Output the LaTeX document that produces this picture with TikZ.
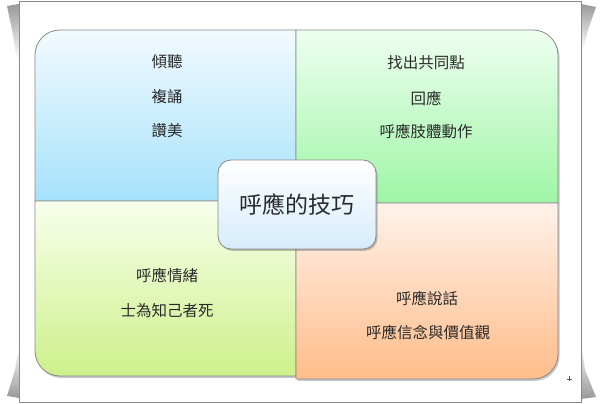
\documentclass[tikz,border=0pt]{standalone}
\usepackage{fontspec}
\newfontfamily\cjk{Noto Sans CJK TC}
\usetikzlibrary{shadows}
\definecolor{edge}{HTML}{8A8A8A}
\definecolor{txt}{HTML}{2A2A2A}
\definecolor{tlT}{HTML}{F2FAFE}\definecolor{tlB}{HTML}{A6E2FB}
\definecolor{trT}{HTML}{EEFFF0}\definecolor{trB}{HTML}{9EF5A5}
\definecolor{blT}{HTML}{F8FFEC}\definecolor{blB}{HTML}{CDF08A}
\definecolor{brT}{HTML}{FFF2EA}\definecolor{brB}{HTML}{FFBD8A}
\definecolor{cB}{HTML}{D6ECFB}
\tikzset{
  quad/.style={draw=edge, line width=0.8pt,
    drop shadow={shadow xshift=1.5pt, shadow yshift=-2pt, opacity=0.3, fill=black!70}},
  item/.style={font=\cjk\fontsize{15.5}{18}\selectfont, text=txt, inner sep=0pt},
  pageshadow/.style={draw=none},
}
\begin{document}
\begin{tikzpicture}[x=1pt,y=1pt]
\useasboundingbox (0,0) rectangle (600,404);
% page shadows
\shade[top color=black!40, bottom color=white, pageshadow] (19,400) -- (7,398) -- (12,374) -- (17,344) -- (19,344) -- cycle;
\shade[top color=white, bottom color=black!40, pageshadow] (19,59) -- (15,34) -- (7,8) -- (19,6) -- cycle;
\shade[top color=black!40, bottom color=white, pageshadow] (581,400) -- (596,397) -- (588,374) -- (583,354) -- (581,354) -- cycle;
\shade[top color=white, bottom color=black!40, pageshadow] (581,64) -- (585,34) -- (596,7) -- (581,5) -- cycle;
% frame
\draw[edge, fill=white, line width=0.8pt] (19,2) rectangle (581,403);
% quadrants
\path[quad, top color=tlT, bottom color=tlB]
  (35,203) -- (35,349) arc[start angle=180,end angle=90,radius=25] -- (296,374) -- (296,203) -- cycle;
\path[quad, top color=blT, bottom color=blB]
  (35,203) -- (35,53) arc[start angle=180,end angle=270,radius=25] -- (296,28) -- (296,203) -- cycle;
\path[quad, top color=trT, bottom color=trB]
  (296,201) -- (296,374) -- (533,374) arc[start angle=90,end angle=0,radius=25] -- (558,201) -- cycle;
\path[quad, top color=brT, bottom color=brB]
  (296,201) -- (296,25) -- (533,25) arc[start angle=270,end angle=360,radius=25] -- (558,201) -- cycle;
% center
\node[draw=edge, line width=0.8pt, rounded corners=13pt, minimum width=158pt, minimum height=89pt,
  top color=white, bottom color=cB, text=txt, font=\cjk\fontsize{23}{26}\selectfont,
  drop shadow={shadow xshift=1.5pt, shadow yshift=-2pt, opacity=0.35, fill=black!70}]
  (center) at (297,199.5) {呼應的技巧};
% texts
\node[item] (a1) at (167,342) {傾聽};
\node[item] (a2) at (167,307) {複誦};
\node[item] (a3) at (167,273) {讚美};
\node[item] (b1) at (426,341) {找出共同點};
\node[item] (b2) at (426,306) {回應};
\node[item] (b3) at (426,273) {呼應肢體動作};
\node[item] (c1) at (167,128) {呼應情緒};
\node[item] (c2) at (167,93) {士為知己者死};
\node[item] (d1) at (427,106) {呼應說話};
\node[item] (d2) at (428,72) {呼應信念與價值觀};
% small plus mark
\draw[black!65, line width=0.7pt] (566.5,25) -- (571.5,25) (569,22.5) -- (569,27.5);
\end{tikzpicture}
\end{document}
